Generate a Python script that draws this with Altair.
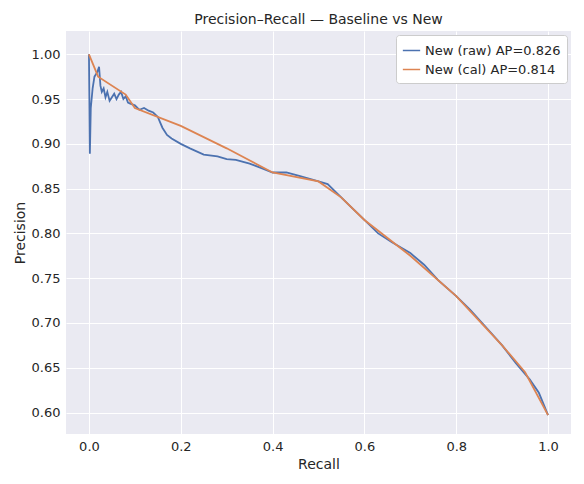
import altair as alt
import pandas as pd

raw_r = [0,0.002,0.004,0.008,0.012,0.018,0.022,0.025,0.028,0.032,0.036,0.04,0.045,0.05,0.055,0.06,0.065,0.07,0.075,0.08,0.085,0.09,0.1,0.11,0.12,0.13,0.14,0.15,0.16,0.17,0.18,0.2,0.22,0.25,0.28,0.3,0.32,0.35,0.38,0.4,0.43,0.46,0.5,0.52,0.54,0.57,0.6,0.63,0.66,0.7,0.73,0.76,0.8,0.83,0.86,0.9,0.93,0.96,0.98,1.0]
raw_p = [1.0,0.889,0.94,0.962,0.975,0.98,0.986,0.965,0.958,0.962,0.952,0.958,0.948,0.952,0.956,0.95,0.955,0.958,0.95,0.953,0.946,0.945,0.943,0.938,0.94,0.937,0.935,0.93,0.918,0.91,0.906,0.9,0.895,0.888,0.886,0.883,0.882,0.878,0.872,0.868,0.868,0.864,0.858,0.855,0.845,0.83,0.815,0.8,0.79,0.778,0.765,0.748,0.73,0.715,0.698,0.675,0.655,0.637,0.622,0.597]
cal_r = [0,0.02,0.08,0.1,0.2,0.3,0.4,0.5,0.55,0.6,0.7,0.8,0.9,0.95,1.0]
cal_p = [1.0,0.975,0.955,0.94,0.92,0.895,0.868,0.858,0.84,0.815,0.775,0.73,0.675,0.645,0.597]
names = ["New (raw) AP=0.826", "New (cal) AP=0.814"]

df = pd.concat([
    pd.DataFrame({"r": raw_r, "p": raw_p, "s": names[0], "o": range(len(raw_r))}),
    pd.DataFrame({"r": cal_r, "p": cal_p, "s": names[1], "o": range(len(cal_r))}),
])

chart = alt.Chart(df).mark_line(strokeWidth=1.8).encode(
    x=alt.X("r:Q", title="Recall", scale=alt.Scale(domain=[-0.05, 1.05], nice=False),
            axis=alt.Axis(values=[0,0.2,0.4,0.6,0.8,1.0], format=".1f")),
    y=alt.Y("p:Q", title="Precision", scale=alt.Scale(domain=[0.576, 1.026], nice=False, zero=False),
            axis=alt.Axis(values=[0.6,0.65,0.7,0.75,0.8,0.85,0.9,0.95,1.0], format=".2f")),
    color=alt.Color("s:N", scale=alt.Scale(domain=names, range=["#4c72b0", "#dd8452"]),
                    legend=alt.Legend(title=None, orient="top-right", offset=4, fillColor="white",
                                      strokeColor="#cccccc", padding=6, symbolType="stroke",
                                      labelFontSize=13, symbolSize=300, cornerRadius=3,
                                      labelColor="#262626")),
    order="o:Q",
).properties(
    width=568, height=468,
    autosize=alt.AutoSizeParams(type="fit", contains="padding"),
    title=alt.Title("Precision–Recall — Baseline vs New", fontSize=14, fontWeight="normal", color="#262626"),
).configure(font="DejaVu Sans").configure_view(fill="#eaeaf2", stroke=None).configure_axis(
    grid=True, gridColor="white", domain=False, ticks=False, labelFontSize=13,
    titleFontSize=14, titleFontWeight="normal", labelColor="#262626", titleColor="#262626", labelPadding=6
)

chart.save("out.html", embed_options={"renderer": "svg", "actions": False})
